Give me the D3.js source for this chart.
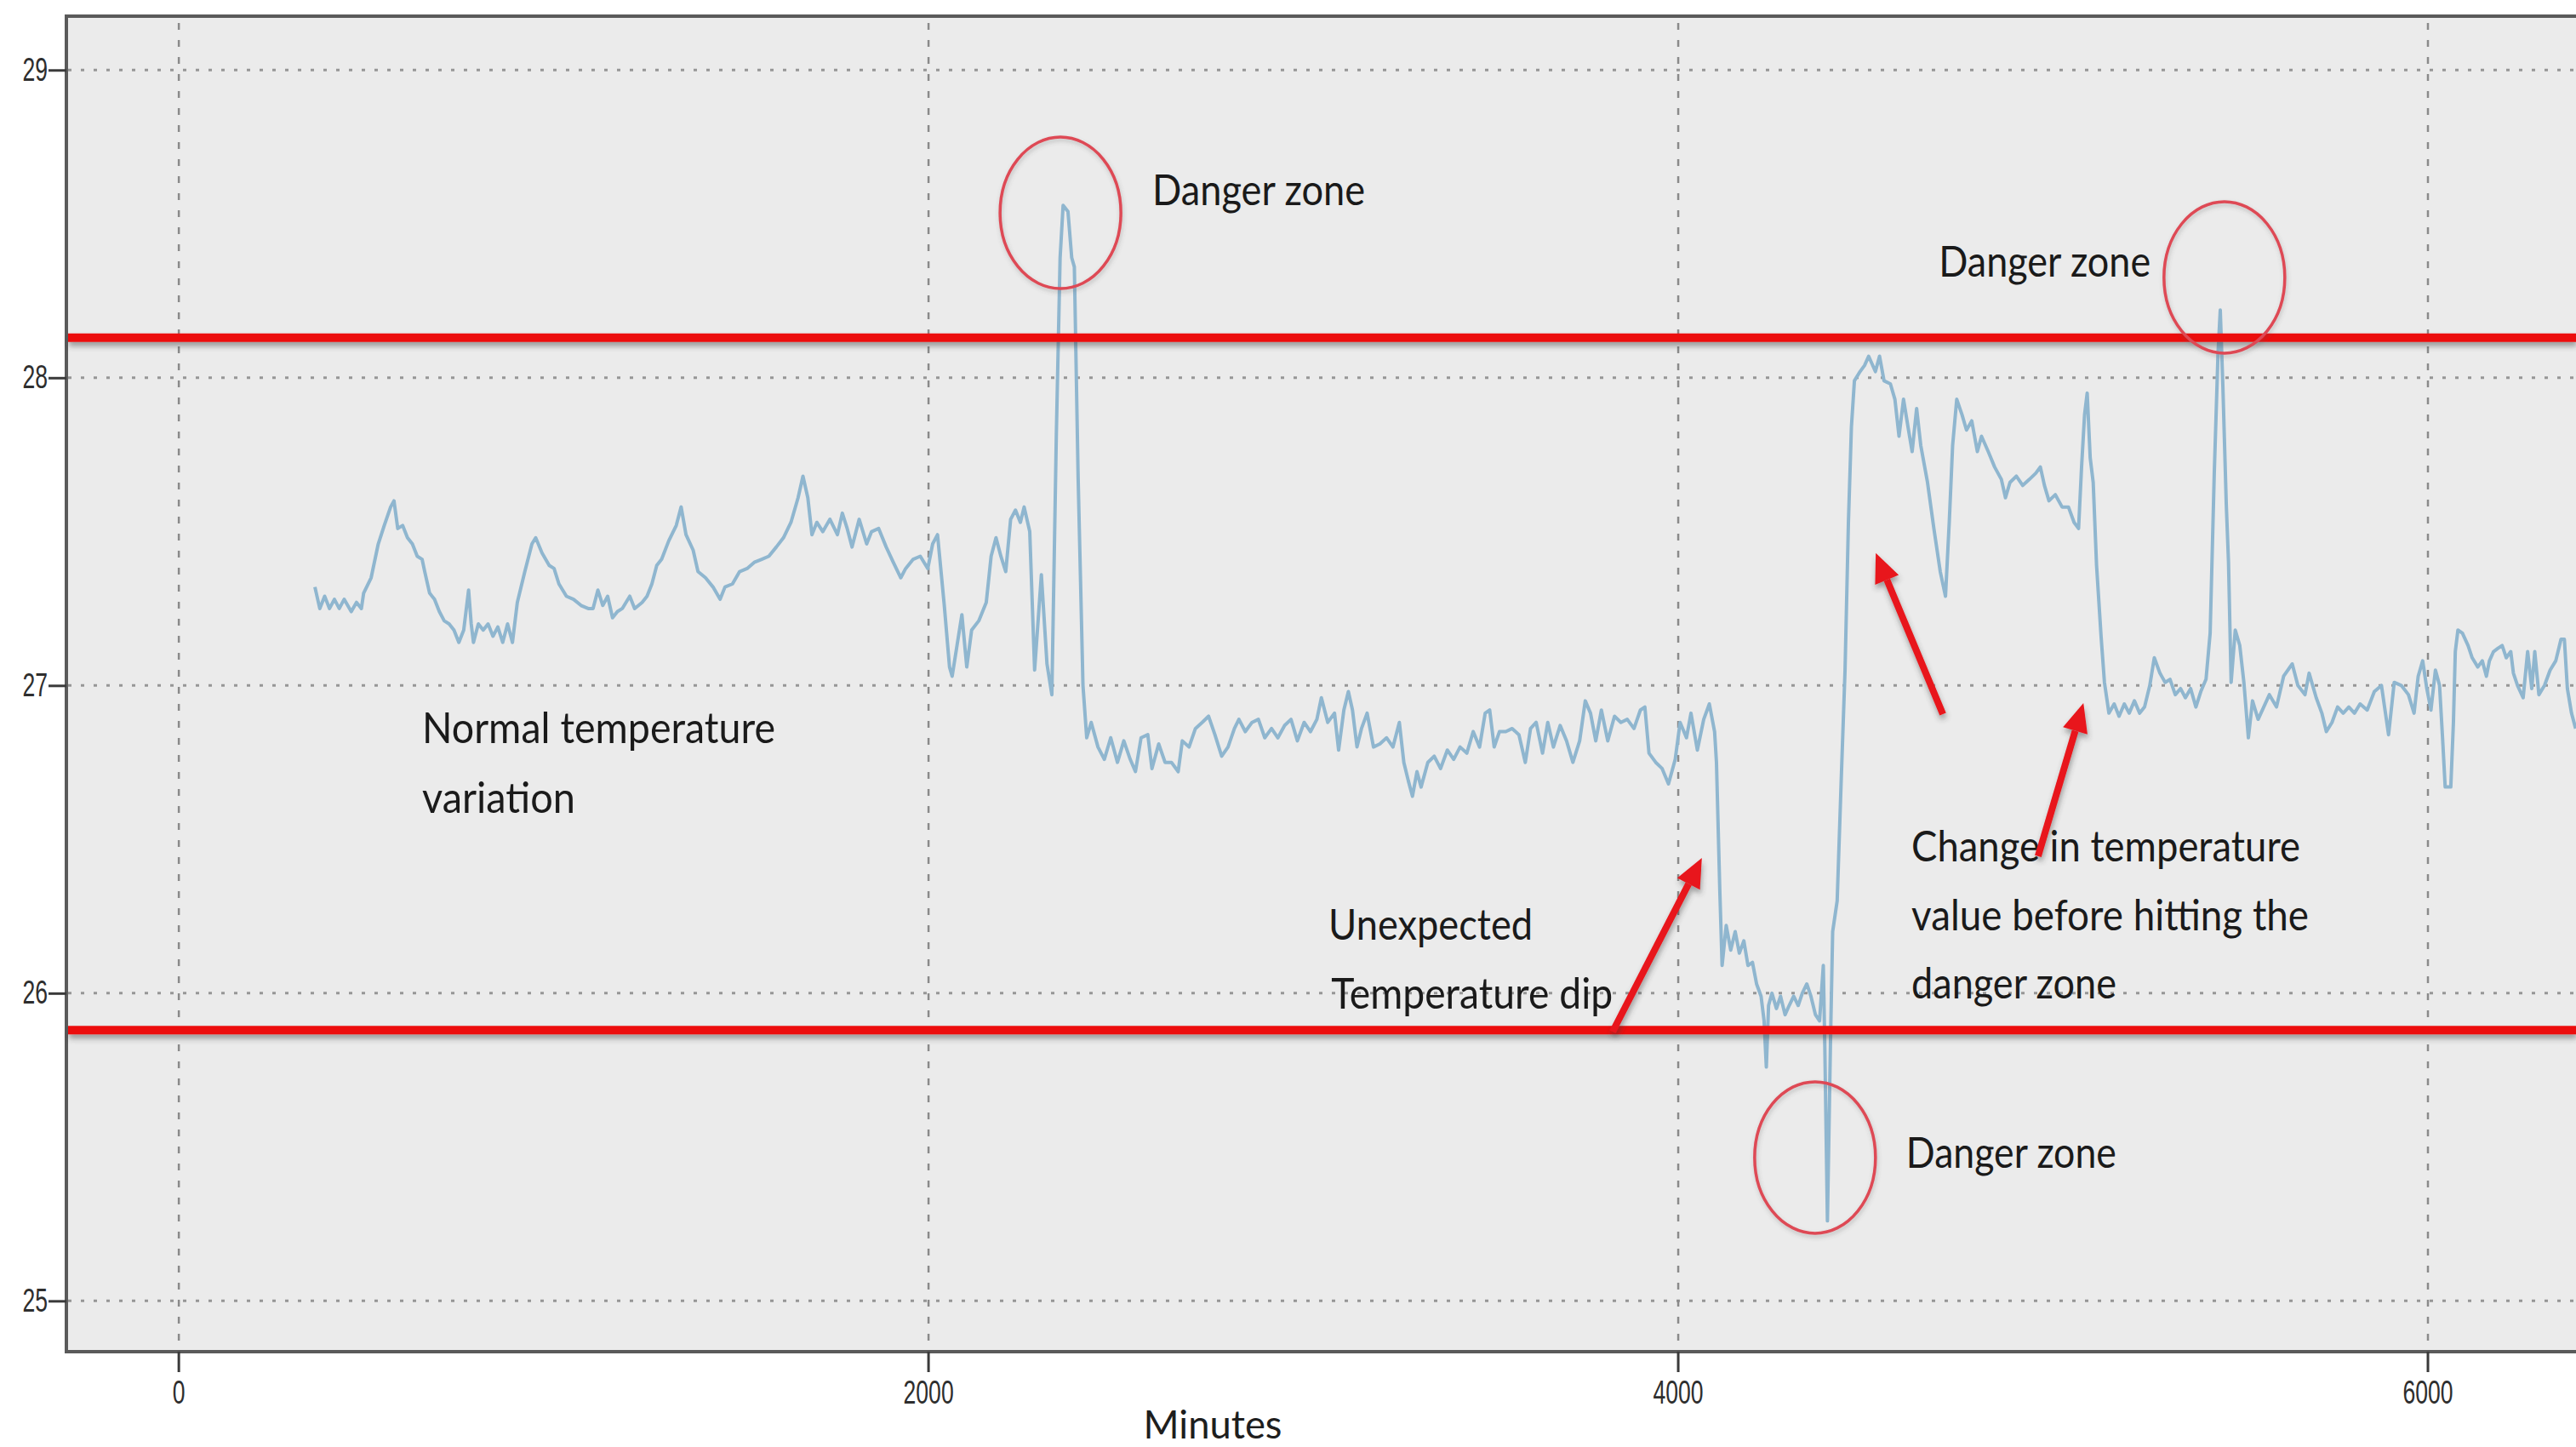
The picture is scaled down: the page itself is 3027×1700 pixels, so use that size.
<!DOCTYPE html>
<html>
<head>
<meta charset="utf-8">
<script src="https://cdn.jsdelivr.net/npm/d3@7"></script>
<style>
  html, body { margin: 0; padding: 0; background: #ffffff; }
  svg { display: block; }
</style>
</head>
<body>
<svg id="chart" width="3027" height="1700"></svg>
<script>
// Temperature sensor log: [minutes since start, temperature °C]
const readings = [
  [363,27.32],[376,27.25],[389,27.29],[402,27.25],[415,27.28],[428,27.25],[441,27.28],[460,27.24],[474,27.27],[487,27.25],
  [493,27.30],[513,27.35],[532,27.46],[548,27.52],[565,27.58],[574,27.60],[584,27.51],[597,27.52],[610,27.48],[623,27.46],
  [636,27.42],[649,27.41],[656,27.37],[669,27.30],[682,27.28],[695,27.24],[708,27.21],[721,27.20],[734,27.18],[747,27.14],
  [760,27.18],[773,27.31],[780,27.20],[786,27.14],[799,27.20],[812,27.18],[825,27.20],[838,27.16],[851,27.19],[864,27.14],
  [877,27.20],[890,27.14],[903,27.27],[923,27.37],[942,27.46],[952,27.48],[969,27.43],[988,27.39],[1001,27.38],[1014,27.33],
  [1034,27.29],[1053,27.28],[1073,27.26],[1092,27.25],[1105,27.25],[1118,27.31],[1131,27.26],[1144,27.29],[1157,27.22],[1170,27.24],
  [1183,27.25],[1203,27.29],[1216,27.25],[1236,27.27],[1249,27.29],[1262,27.33],[1275,27.39],[1288,27.41],[1307,27.47],[1327,27.52],
  [1340,27.58],[1353,27.49],[1372,27.44],[1385,27.37],[1405,27.35],[1425,27.32],[1444,27.28],[1457,27.32],[1477,27.33],[1496,27.37],
  [1516,27.38],[1535,27.40],[1555,27.41],[1574,27.42],[1594,27.45],[1613,27.48],[1633,27.53],[1652,27.61],[1665,27.68],[1678,27.61],
  [1689,27.49],[1702,27.53],[1718,27.50],[1737,27.54],[1757,27.49],[1770,27.56],[1783,27.51],[1796,27.45],[1815,27.54],[1835,27.46],
  [1848,27.50],[1867,27.51],[1887,27.45],[1906,27.40],[1926,27.35],[1939,27.38],[1959,27.41],[1978,27.42],[1998,27.38],[2011,27.46],
  [2024,27.49],[2042,27.26],[2056,27.06],[2063,27.03],[2076,27.13],[2089,27.23],[2102,27.06],[2115,27.18],[2134,27.21],[2154,27.27],
  [2167,27.42],[2180,27.48],[2193,27.42],[2206,27.37],[2219,27.54],[2232,27.57],[2245,27.53],[2255,27.58],[2270,27.50],[2283,27.05],
  [2301,27.36],[2316,27.07],[2329,26.97],[2341,27.82],[2351,28.39],[2359,28.56],[2372,28.54],[2382,28.39],[2389,28.36],[2399,27.68],
  [2412,27.00],[2422,26.83],[2434,26.88],[2452,26.80],[2469,26.76],[2486,26.83],[2504,26.75],[2521,26.82],[2538,26.76],[2552,26.72],
  [2567,26.83],[2585,26.84],[2596,26.73],[2614,26.81],[2631,26.75],[2648,26.75],[2666,26.72],[2677,26.82],[2695,26.80],[2712,26.86],
  [2730,26.88],[2747,26.90],[2764,26.84],[2782,26.77],[2799,26.80],[2816,26.86],[2828,26.89],[2845,26.85],[2863,26.88],[2880,26.89],
  [2897,26.83],[2915,26.86],[2932,26.83],[2950,26.87],[2967,26.89],[2984,26.82],[3002,26.88],[3019,26.85],[3036,26.89],[3048,26.96],
  [3065,26.88],[3083,26.91],[3094,26.79],[3108,26.92],[3120,26.98],[3131,26.92],[3143,26.80],[3155,26.86],[3170,26.91],[3187,26.80],
  [3204,26.81],[3222,26.83],[3239,26.80],[3256,26.88],[3268,26.75],[3280,26.69],[3291,26.64],[3303,26.72],[3314,26.67],[3332,26.75],
  [3349,26.77],[3366,26.73],[3384,26.79],[3401,26.76],[3418,26.80],[3436,26.78],[3453,26.85],[3470,26.80],[3485,26.91],[3497,26.92],
  [3509,26.80],[3523,26.85],[3540,26.85],[3557,26.86],[3575,26.84],[3592,26.75],[3606,26.86],[3621,26.88],[3638,26.78],[3652,26.88],
  [3667,26.80],[3685,26.87],[3702,26.82],[3719,26.75],[3737,26.82],[3752,26.95],[3766,26.91],[3780,26.82],[3795,26.92],[3812,26.82],
  [3830,26.90],[3847,26.88],[3864,26.89],[3882,26.86],[3899,26.92],[3911,26.93],[3922,26.78],[3940,26.75],[3957,26.73],[3974,26.68],
  [3992,26.76],[4005,26.88],[4022,26.83],[4034,26.91],[4051,26.79],[4068,26.89],[4083,26.94],[4097,26.85],[4102,26.75],[4111,26.33],
  [4117,26.09],[4128,26.22],[4140,26.14],[4152,26.20],[4163,26.13],[4175,26.17],[4186,26.09],[4198,26.10],[4209,26.03],[4221,25.99],
  [4229,25.91],[4235,25.76],[4241,25.96],[4250,26.00],[4262,25.95],[4273,25.99],[4285,25.93],[4296,25.96],[4308,25.99],[4320,25.96],
  [4331,26.00],[4343,26.03],[4354,25.99],[4366,25.93],[4377,25.91],[4387,26.09],[4391,25.83],[4398,25.26],[4406,25.83],[4412,26.20],
  [4424,26.30],[4435,26.70],[4445,27.05],[4454,27.53],[4462,27.84],[4470,27.99],[4485,28.02],[4497,28.04],[4508,28.07],[4526,28.02],
  [4537,28.07],[4549,27.99],[4566,27.98],[4578,27.93],[4589,27.81],[4601,27.93],[4613,27.84],[4624,27.76],[4636,27.90],[4647,27.78],
  [4665,27.66],[4682,27.51],[4699,27.37],[4713,27.29],[4723,27.53],[4732,27.78],[4743,27.93],[4757,27.88],[4769,27.83],[4783,27.86],
  [4798,27.76],[4809,27.81],[4827,27.76],[4844,27.71],[4862,27.67],[4873,27.61],[4885,27.66],[4902,27.68],[4919,27.65],[4937,27.67],
  [4954,27.69],[4966,27.71],[4977,27.65],[4989,27.60],[5006,27.62],[5024,27.58],[5041,27.58],[5056,27.53],[5068,27.51],[5076,27.71],
  [5084,27.88],[5091,27.95],[5099,27.74],[5107,27.66],[5116,27.39],[5128,27.16],[5137,27.01],[5149,26.91],[5163,26.94],[5176,26.90],
  [5190,26.94],[5203,26.91],[5217,26.95],[5231,26.91],[5244,26.93],[5258,27.00],[5270,27.09],[5285,27.04],[5299,27.01],[5312,27.02],
  [5326,26.97],[5340,26.99],[5353,26.96],[5367,26.99],[5381,26.93],[5394,26.98],[5408,27.02],[5419,27.17],[5430,27.69],[5440,28.08],
  [5446,28.22],[5453,27.97],[5462,27.59],[5468,27.40],[5475,27.01],[5486,27.18],[5498,27.13],[5509,27.01],[5521,26.83],[5532,26.95],
  [5547,26.89],[5562,26.93],[5577,26.97],[5596,26.93],[5615,27.03],[5638,27.07],[5653,27.00],[5672,26.97],[5683,27.04],[5702,26.96],
  [5717,26.91],[5729,26.85],[5744,26.88],[5759,26.93],[5774,26.91],[5789,26.93],[5804,26.91],[5819,26.94],[5838,26.92],[5857,26.98],
  [5876,27.00],[5895,26.84],[5910,27.01],[5929,27.00],[5948,26.97],[5963,26.91],[5974,27.03],[5986,27.08],[5997,26.99],[6008,26.92],
  [6020,27.05],[6031,27.00],[6039,26.83],[6046,26.67],[6061,26.67],[6068,26.88],[6073,27.11],[6080,27.18],[6092,27.17],[6107,27.13],
  [6118,27.09],[6133,27.06],[6145,27.08],[6156,27.03],[6164,27.08],[6175,27.11],[6186,27.12],[6198,27.13],[6209,27.09],[6221,27.11],
  [6228,27.04],[6239,27.00],[6254,26.96],[6266,27.11],[6277,26.99],[6285,27.11],[6296,26.97],[6311,27.00],[6326,27.05],[6341,27.08],
  [6355,27.15],[6364,27.15],[6372,26.99],[6383,26.91],[6394,26.86]
];

// Axis ticks
const xTicks = [0, 2000, 4000, 6000];
const yTicks = [25, 26, 27, 28, 29];

// Safe band limits (°C)
const upperLimit = 28.13;
const lowerLimit = 25.88;

// Highlighted excursions: [minute, temperature] at the centre of each ring
const rings = [[2352, 28.536], [5457, 28.326], [4365, 25.466]];

// Callout arrows: tail -> head, in [minute, temperature]
const arrows = [
  { from: [3825, 25.875], to: [4063, 26.439] },
  { from: [4706, 26.907], to: [4527, 27.430] },
  { from: [4960, 26.445], to: [5081, 26.943] }
];

// Callout text, anchored at the left end of its baseline
const notes = [
  { text: "Danger zone", at: [2597, 28.561], w: 250 },
  { text: "Danger zone", at: [4695, 28.329], w: 249 },
  { text: "Danger zone", at: [4608, 25.433], w: 247 },
  { text: "Normal temperature", at: [649, 26.813], w: 415 },
  { text: "variation", at: [649, 26.586], w: 180 },
  { text: "Unexpected", at: [3067, 26.174], w: 240 },
  { text: "Temperature dip", at: [3074, 25.950], w: 331 },
  { text: "Change in temperature", at: [4622, 26.428], w: 457 },
  { text: "value before hitting the", at: [4622, 26.204], w: 467 },
  { text: "danger zone", at: [4622, 25.983], w: 241 }
];

const W = 3027, H = 1700;
const panel = { left: 78, top: 19, bottom: 1588 };

const svg = d3.select("#chart");

const x = d3.scaleLinear().domain([-300, 6395]).range([panel.left, W]);
const y = d3.scaleLinear().domain([24.835, 29.175]).range([panel.bottom, panel.top]);

// Filters: soft grey shadow under the red annotations
const defs = svg.append("defs");
const sh = defs.append("filter").attr("id", "shadow")
  .attr("filterUnits", "userSpaceOnUse")
  .attr("x", 0).attr("y", 0).attr("width", W).attr("height", H);
sh.append("feDropShadow").attr("dx", 1).attr("dy", 5).attr("stdDeviation", 3)
  .attr("flood-color", "#3a3a3a").attr("flood-opacity", 0.45);
const sh2 = defs.append("filter").attr("id", "ringShadow")
  .attr("filterUnits", "userSpaceOnUse")
  .attr("x", 0).attr("y", 0).attr("width", W).attr("height", H);
sh2.append("feDropShadow").attr("dx", 1).attr("dy", 3).attr("stdDeviation", 2.5)
  .attr("flood-color", "#555").attr("flood-opacity", 0.3);

defs.append("clipPath").attr("id", "plotClip")
  .append("rect").attr("x", panel.left).attr("y", panel.top)
  .attr("width", W - panel.left).attr("height", panel.bottom - panel.top);

// Panel
svg.append("rect")
  .attr("x", panel.left).attr("y", panel.top)
  .attr("width", W - panel.left + 20).attr("height", panel.bottom - panel.top)
  .attr("fill", "#ebebeb");

// Grid
const grid = svg.append("g").attr("clip-path", "url(#plotClip)");
grid.selectAll("line.h").data(yTicks).join("line").attr("class", "h")
  .attr("x1", panel.left + 2).attr("x2", W)
  .attr("y1", d => y(d)).attr("y2", d => y(d))
  .attr("stroke", "#969696").attr("stroke-width", 3).attr("stroke-dasharray", "4 11");
grid.selectAll("line.v").data(xTicks).join("line").attr("class", "v")
  .attr("x1", d => x(d)).attr("x2", d => x(d))
  .attr("y1", panel.top + 8).attr("y2", panel.bottom)
  .attr("stroke", "#8a8a8a").attr("stroke-width", 2.5).attr("stroke-dasharray", "8 12");

// Temperature trace
const line = d3.line().x(d => x(d[0])).y(d => y(d[1]));
svg.append("g").attr("clip-path", "url(#plotClip)")
  .append("path").datum(readings)
  .attr("d", line)
  .attr("fill", "none")
  .attr("stroke", "#8fb6cf")
  .attr("stroke-width", 4)
  .attr("stroke-linejoin", "round");

// Panel border (drawn over the grid ends)
svg.append("path")
  .attr("d", `M${W + 10},${panel.top} H${panel.left} V${panel.bottom} H${W + 10}`)
  .attr("fill", "none").attr("stroke", "#5a5a5a").attr("stroke-width", 4);

// Axes
const yAxis = d3.axisLeft(y).tickValues(yTicks).tickSize(21).tickPadding(1).tickFormat(d3.format("d"));
const gy = svg.append("g").attr("transform", `translate(${panel.left},0)`).call(yAxis);
gy.select(".domain").remove();
gy.selectAll(".tick line").attr("stroke", "#3a3a3a").attr("stroke-width", 3);
gy.selectAll(".tick text")
  .attr("font-family", "'Liberation Sans', Arial, sans-serif")
  .attr("font-size", 38).attr("fill", "#2e2e2e")
  .attr("x", -22 / 0.7).attr("transform", "scale(0.7,1)");

const xAxis = d3.axisBottom(x).tickValues(xTicks).tickSize(24).tickPadding(10).tickFormat(d3.format("d"));
const gx = svg.append("g").attr("transform", `translate(0,${panel.bottom})`).call(xAxis);
gx.select(".domain").remove();
gx.selectAll(".tick line").attr("stroke", "#3a3a3a").attr("stroke-width", 3);
gx.selectAll(".tick text")
  .attr("font-family", "'Liberation Sans', Arial, sans-serif")
  .attr("font-size", 38).attr("fill", "#2e2e2e")
  .attr("x", 0).attr("transform", "scale(0.7,1)");
gx.selectAll(".tick").attr("transform", d => `translate(${x(d)},0)`);

svg.append("text")
  .attr("x", 1425).attr("y", 1690)
  .attr("text-anchor", "middle")
  .attr("font-family", "Lato, 'Open Sans', sans-serif")
  .attr("font-size", 47).attr("fill", "#1e1e1e")
  .attr("textLength", 163).attr("lengthAdjust", "spacingAndGlyphs")
  .text("Minutes");

// Limit lines
const limits = svg.append("g").attr("filter", "url(#shadow)");
limits.selectAll("line").data([upperLimit, lowerLimit]).join("line")
  .attr("x1", panel.left + 2).attr("x2", W)
  .attr("y1", d => y(d)).attr("y2", d => y(d))
  .attr("stroke", "#ec0d0d").attr("stroke-width", 10);

// Rings around excursions
svg.append("g").attr("filter", "url(#ringShadow)")
  .selectAll("ellipse").data(rings).join("ellipse")
  .attr("cx", d => x(d[0])).attr("cy", d => y(d[1]))
  .attr("rx", 71).attr("ry", 89)
  .attr("fill", "none").attr("stroke", "#de4a55").attr("stroke-width", 3.5);

// Callout text
svg.append("g").selectAll("text").data(notes).join("text")
  .attr("x", d => x(d.at[0])).attr("y", d => y(d.at[1]))
  .attr("font-family", "Lato, 'Open Sans', sans-serif")
  .attr("font-size", 50).attr("fill", "#1a1a1a")
  .attr("textLength", d => d.w).attr("lengthAdjust", "spacingAndGlyphs")
  .text(d => d.text);

// Arrows
const ag = svg.append("g").attr("filter", "url(#shadow)");
arrows.forEach(a => {
  const x1 = x(a.from[0]), y1 = y(a.from[1]);
  const x2 = x(a.to[0]), y2 = y(a.to[1]);
  const ang = Math.atan2(y2 - y1, x2 - x1);
  const len = 34, half = 15;
  const bx = x2 - len * Math.cos(ang), by = y2 - len * Math.sin(ang);
  ag.append("line")
    .attr("x1", x1).attr("y1", y1).attr("x2", bx).attr("y2", by)
    .attr("stroke", "#e8141a").attr("stroke-width", 8);
  const pts = [
    [x2, y2],
    [bx + half * Math.sin(ang), by - half * Math.cos(ang)],
    [bx - half * Math.sin(ang), by + half * Math.cos(ang)]
  ];
  ag.append("polygon").attr("points", pts.map(p => p.join(",")).join(" "))
    .attr("fill", "#e8141a");
});
</script>
</body>
</html>
